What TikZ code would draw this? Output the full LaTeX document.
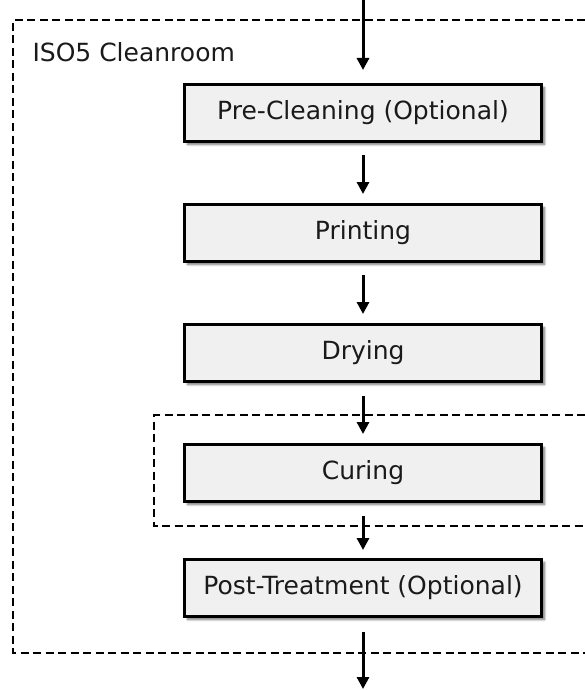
\documentclass[tikz,border=0pt]{standalone}
\usepackage{fontspec}
\setmainfont{DejaVu Sans}
\usetikzlibrary{arrows.meta,shadows.blur}
\definecolor{boxfill}{HTML}{F0F0F0}
\definecolor{txt}{HTML}{1A1A1A}
\begin{document}
\begin{tikzpicture}[x=1pt,y=-1pt,
  stepbox/.style={draw=black,line width=3pt,fill=boxfill,minimum width=357pt,minimum height=57pt,
    text=txt,font=\fontsize{25}{30}\selectfont,inner sep=0pt,
    blur shadow={shadow xshift=3pt,shadow yshift=-3pt,shadow blur steps=6,shadow opacity=55}},
  flow/.style={line width=3pt,-{Triangle[width=12pt,length=12pt]}},
  region/.style={draw=black,line width=2.8pt,dash pattern=on 8pt off 4.5pt}]
\useasboundingbox (0,0) rectangle (585,690);
% regions
\draw[region] (585,20) -- (13,20) -- (13,653) -- (585,653);
\draw[region] (585,415) -- (154,415) -- (154,526) -- (585,526);
\node[anchor=base west,text=txt,font=\fontsize{25}{30}\selectfont] (lbl) at (29,62) {ISO5 Cleanroom};
% steps
\node[stepbox] (pre) at (363,113) {Pre-Cleaning (Optional)};
\node[stepbox] (print) at (363,233) {Printing};
\node[stepbox] (dry) at (363,353) {Drying};
\node[stepbox] (cure) at (363,473) {Curing};
\node[stepbox] (post) at (363,588) {Post-Treatment (Optional)};
\coordinate (in) at (363,0);
\coordinate (out) at (363,689);
% connectors
\draw[flow,shorten >=13pt] (in) -- (pre);
\draw[flow,shorten <=12pt,shorten >=9pt] (pre) -- (print);
\draw[flow,shorten <=12pt,shorten >=9pt] (print) -- (dry);
\draw[flow,shorten <=13pt,shorten >=9pt] (dry) -- (cure);
\draw[flow,shorten <=13pt,shorten >=8pt] (cure) -- (post);
\draw[flow,shorten <=14pt] (post) -- (out);
\end{tikzpicture}
\end{document}
